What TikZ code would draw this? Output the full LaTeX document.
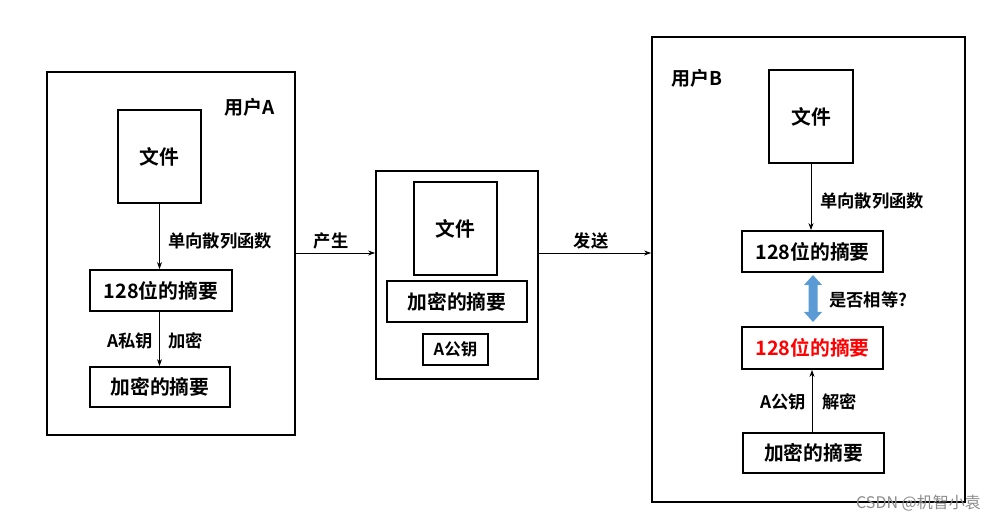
\documentclass[tikz,border=0pt]{standalone}
\usepackage{fontspec}
\setmainfont{Liberation Sans}
\newfontfamily\cjk[BoldFont={Noto Sans CJK SC Bold}]{Noto Sans CJK SC}
\usetikzlibrary{arrows.meta}
\definecolor{dblue}{HTML}{5B9BD5}
\begin{document}
\begin{tikzpicture}[x=1pt,y=-1pt,
  outer/.style={draw,line width=1.8pt,minimum width=#1,inner sep=0pt},
  bx/.style={draw,line width=1.8pt,inner sep=0pt,font=\cjk\bfseries\fontsize{19.8}{22}\selectfont},
  lbl/.style={inner sep=0pt,font=\cjk\bfseries\fontsize{17.3}{20}\selectfont},
  arr/.style={-{Stealth[length=7pt,width=5pt]},line width=0.9pt}]
\useasboundingbox (0,0) rectangle (997,521);
% outer boxes
\node[outer=248pt,minimum height=363pt] (boxA) at (171,253.5) {};
\node[outer=162pt,minimum height=208pt] (mid) at (457,275) {};
\node[outer=313pt,minimum height=465pt] (boxB) at (808.5,269.5) {};
% user A
\node[lbl,font=\cjk\bfseries\fontsize{19}{20}\selectfont] (ua) at (250,107) {用户A};
\node[bx,minimum width=83pt,minimum height=93pt] (fa) at (159.5,156.5) {文件};
\node[bx,minimum width=142pt,minimum height=41pt] (ha) at (161,290.5) {128位的摘要};
\node[bx,minimum width=140pt,minimum height=40pt] (ea) at (160,387) {加密的摘要};
\draw[arr] (fa.south) -- (fa.south |- ha.north);
\draw[arr] (fa.south |- ha.south) -- (fa.south |- ea.north);
\node[lbl,anchor=west] (la1) at (168,241) {单向散列函数};
\node[lbl,anchor=east] (la2) at (153,341) {A私钥};
\node[lbl,anchor=west] (la3) at (168,341) {加密};
% middle
\node[bx,minimum width=83pt,minimum height=93pt] (fm) at (455.5,228.5) {文件};
\node[bx,minimum width=140pt,minimum height=41pt] (em) at (457,301.5) {加密的摘要};
\node[bx,minimum width=65pt,minimum height=31pt,font=\cjk\bfseries\fontsize{16.5}{20}\selectfont] (km) at (455.5,349.5) {A公钥};
\coordinate (ya) at (0,253);
\draw[arr] (boxA.east |- ya) -- (mid.west |- ya);
\draw[arr] (mid.east |- ya) -- (boxB.west |- ya);
\node[lbl] (lp) at (331,241) {产生};
\node[lbl] (ls) at (591,241) {发送};
% user B
\node[lbl,font=\cjk\bfseries\fontsize{19}{20}\selectfont] (ub) at (697,78) {用户B};
\node[bx,minimum width=84pt,minimum height=93pt] (fb) at (811,116.5) {文件};
\node[bx,minimum width=141pt,minimum height=41pt] (hb) at (812.5,251.5) {128位的摘要};
\node[bx,minimum width=141pt,minimum height=42pt,text=red] (rb) at (812.5,348) {128位的摘要};
\node[bx,minimum width=141pt,minimum height=40pt] (eb) at (813.5,453) {加密的摘要};
\draw[arr] (fb.south) -- (fb.south |- hb.north);
\draw[arr] (eb.north -| 812,0) -- (rb.south -| 812,0);
\node[lbl,anchor=west] (lb1) at (820,201) {单向散列函数};
\node[lbl,anchor=west] (lb2) at (829,300) {是否相等?};
\node[lbl,anchor=east] (lb3) at (806,402) {A公钥};
\node[lbl,anchor=west] (lb4) at (822,402) {解密};
% blue double arrow
\fill[dblue] (813,275) -- (822,285) -- (817.5,285) -- (817.5,312) -- (822,312) -- (813,322)
  -- (804,312) -- (808.5,312) -- (808.5,285) -- (804,285) -- cycle;
% watermark
\node[inner sep=0pt,anchor=east,text=black!45,font=\cjk\fontsize{16}{18}\selectfont] (wm) at (981,503) {CSDN @机智小袁};
\end{tikzpicture}
\end{document}
